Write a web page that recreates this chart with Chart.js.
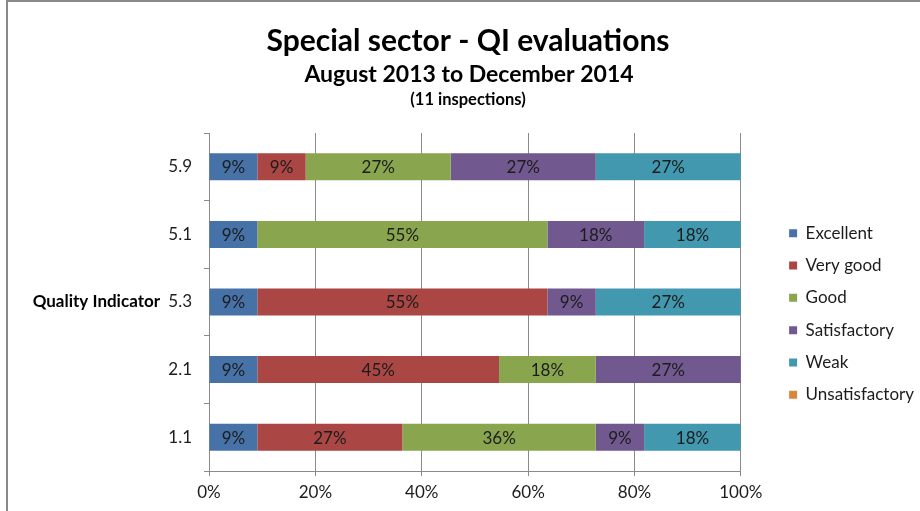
<!DOCTYPE html>
<html lang="en">
<head>
    <meta charset="UTF-8">
    <title>Special sector - QI evaluations</title>
    <script src="https://cdn.jsdelivr.net/npm/chart.js"></script>
    <style>
        body {
            margin: 0;
            background: #fff;
        }
        .frame {
            position: absolute;
            left: 6px;
            top: 0;
            width: 1000px;
            height: 600px;
            border-left: 2px solid #8a8a8a;
            border-top: 2px solid #8a8a8a;
        }
        #qiChart {
            position: absolute;
            left: 0;
            top: 0;
        }
    </style>
</head>
<body>
    <div class="frame"></div>
    <canvas id="qiChart" width="920" height="511"></canvas>

    <script>
        const titleText = 'Special sector - QI evaluations';
        const subtitleText = 'August 2013 to December 2014';
        const noteText = '(11 inspections)';
        const axisTitle = 'Quality Indicator';

        const inspections = 11;
        const qiLabels = ['5.9', '5.1', '5.3', '2.1', '1.1'];
        const ratings = ['Excellent', 'Very good', 'Good', 'Satisfactory', 'Weak', 'Unsatisfactory'];
        const colours = ['#4672A8', '#AA4644', '#89A54E', '#71588F', '#4198AF', '#DB843D'];

        // number of inspections per grade, one entry per QI
        const excellent      = [1, 1, 1, 1, 1];
        const veryGood       = [1, 0, 6, 5, 3];
        const good           = [3, 6, 0, 2, 4];
        const satisfactory   = [3, 2, 1, 3, 1];
        const weak           = [3, 2, 3, 0, 2];
        const unsatisfactory = [0, 0, 0, 0, 0];

        const xTicks = [0, 20, 40, 60, 80, 100];

        const counts = [excellent, veryGood, good, satisfactory, weak, unsatisfactory];
        const font = 'Lato, "DejaVu Sans", sans-serif';
        const textSize = 17;

        const datasets = counts.map((c, i) => ({
            label: ratings[i],
            data: c.map(n => n / inspections * 100),
            backgroundColor: colours[i],
            borderWidth: 0,
            barPercentage: 0.4,
            categoryPercentage: 1
        }));

        // headings and the horizontal axis caption
        const headings = {
            id: 'headings',
            afterDraw(chart) {
                const ctx = chart.ctx;
                ctx.save();
                ctx.fillStyle = '#000';
                ctx.textAlign = 'center';
                ctx.textBaseline = 'middle';
                ctx.font = 'bold 30px ' + font;
                ctx.fillText(titleText, 468, 41);
                ctx.font = 'bold 23px ' + font;
                ctx.fillText(subtitleText, 469, 75);
                ctx.font = 'bold 16.5px ' + font;
                ctx.fillText(noteText, 468, 100);
                ctx.font = 'bold 17px ' + font;
                ctx.textAlign = 'right';
                const a = chart.chartArea;
                ctx.fillText(axisTitle, 160, (a.top + a.bottom) / 2);
                ctx.restore();
            }
        };

        // percentage inside every segment
        const segmentLabels = {
            id: 'segmentLabels',
            afterDatasetsDraw(chart) {
                const ctx = chart.ctx;
                ctx.save();
                ctx.font = textSize + 'px ' + font;
                ctx.fillStyle = '#1c1c1c';
                ctx.textAlign = 'center';
                ctx.textBaseline = 'middle';
                chart.data.datasets.forEach((ds, i) => {
                    chart.getDatasetMeta(i).data.forEach((bar, j) => {
                        const v = ds.data[j];
                        if (!v) return;
                        const p = bar.getCenterPoint();
                        ctx.fillText(Math.round(v) + '%', p.x, p.y + 1);
                    });
                });
                ctx.restore();
            }
        };

        // leave a wider gap between the bars and the legend
        const legendGap = {
            id: 'legendGap',
            afterLayout(chart) {
                const lg = chart.legend;
                lg.left += 33;
                lg.right += 33;
                lg.top += 1;
                lg.bottom += 1;
            }
        };

        new Chart(document.getElementById('qiChart').getContext('2d'), {
            type: 'bar',
            data: { labels: qiLabels, datasets: datasets },
            plugins: [headings, segmentLabels, legendGap],
            options: {
                indexAxis: 'y',
                responsive: false,
                animation: false,
                layout: { padding: { top: 133, right: 29, left: 0, bottom: 0 } },
                plugins: {
                    title: { display: false },
                    tooltip: { enabled: false },
                    legend: {
                        position: 'right',
                        fullSize: false,
                        title: { display: true, text: ' ', font: { size: 10 }, padding: 5 },
                        labels: {
                            boxWidth: 8,
                            boxHeight: 8,
                            padding: 15.3,
                            color: '#1c1c1c',
                            font: { family: font, size: textSize }
                        }
                    }
                },
                scales: {
                    x: {
                        stacked: true,
                        min: 0,
                        max: 100,
                        afterFit: s => { s.height = 40; },
                        afterBuildTicks: s => { s.ticks = xTicks.map(v => ({ value: v })); },
                        ticks: {
                            callback: v => v + '%',
                            color: '#1c1c1c',
                            padding: 6,
                            maxRotation: 0,
                            font: { family: font, size: textSize }
                        },
                        grid: { color: '#8a8a8a', tickLength: 5 },
                        border: { color: '#8a8a8a' }
                    },
                    y: {
                        stacked: true,
                        afterFit: s => { s.width = 209; },
                        ticks: {
                            color: '#1c1c1c',
                            padding: 12,
                            font: { family: font, size: textSize }
                        },
                        grid: { color: '#8a8a8a', drawOnChartArea: false, tickLength: 5 },
                        border: { color: '#8a8a8a' }
                    }
                }
            }
        });
    </script>
</body>
</html>
